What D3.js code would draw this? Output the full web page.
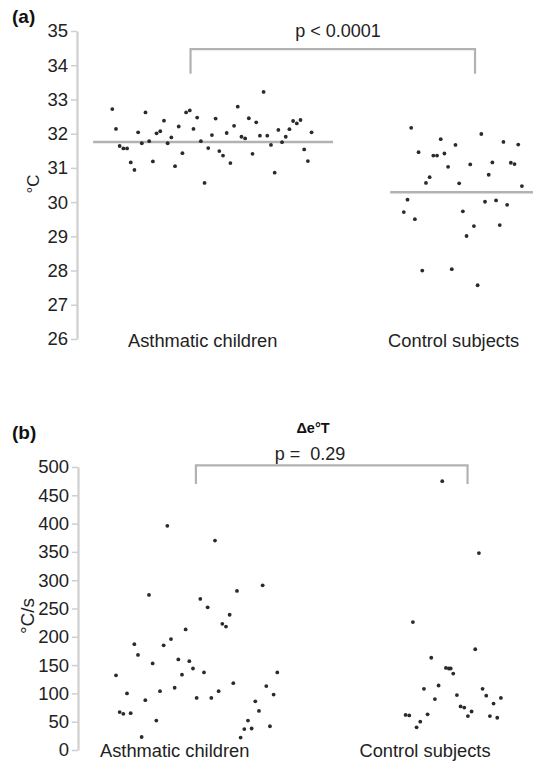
<!DOCTYPE html>
<html>
<head>
<meta charset="utf-8">
<script src="https://cdn.jsdelivr.net/npm/d3@7"></script>
<style>
  html, body { margin: 0; padding: 0; background: #fff; }
  svg { display: block; font-family: "Liberation Sans", Arial, Helvetica, sans-serif; }
</style>
</head>
<body>
<svg id="chart" width="533" height="762"></svg>
<script>
// ---------- DATA ----------
const categories = ["Asthmatic children", "Control subjects"];

// Panel (a): skin temperature, °C (one value per subject, in subject order)
const tempAsthma = [32.72, 32.14, 31.64, 31.57, 31.57, 31.16, 30.94, 32.04, 31.72, 32.62,
  31.78, 31.19, 32.01, 32.07, 32.38, 31.72, 31.89, 31.05, 32.21, 31.43,
  32.62, 32.68, 32.14, 32.47, 31.78, 30.56, 31.58, 31.96, 32.44, 31.49,
  31.36, 32.02, 31.14, 32.23, 32.79, 31.91, 31.86, 32.45, 31.41, 32.33,
  31.94, 33.22, 31.94, 31.67, 30.86, 32.11, 31.75, 31.91, 32.13, 32.37,
  32.30, 32.40, 31.54, 31.20, 32.04];
const tempControl = [29.71, 30.07, 32.17, 29.50, 31.46, 28.00, 30.56, 30.73, 31.36, 31.36,
  31.84, 31.42, 31.03, 28.04, 31.67, 30.55, 29.73, 29.01, 31.10, 29.30,
  27.57, 31.99, 30.01, 30.80, 31.16, 30.05, 29.33, 31.76, 29.92, 31.15,
  31.11, 31.68, 30.47];
const tempMeans = [31.76, 30.29];
const tempTicks = [26, 27, 28, 29, 30, 31, 32, 33, 34, 35];
const tempP = "p < 0.0001";

// Panel (b): Δe°T, °C/s
const rateAsthma = [132, 67, 64, 100, 65, 187, 168, 23, 88, 274,
  153, 52, 104, 185, 396, 196, 110, 160, 133, 213,
  157, 144, 92, 267, 137, 252, 92, 370, 104, 223,
  218, 239, 118, 281, 22, 37, 52, 38, 86, 69,
  291, 113, 42, 98, 137];
const rateControl = [62, 61, 226, 40, 50, 108, 63, 163, 90, 114,
  475, 145, 144, 144, 135, 97, 77, 75, 60, 68,
  178, 348, 108, 96, 60, 82, 57, 92];
const rateControlOrder = [0, 1, 2, 3, 4, 5, 6, 7, 8, 9,
  10, 11, 11.8, 12.3, 13, 14, 15, 16, 17, 18,
  19, 20, 21, 22, 23, 24, 25, 26];
const rateTicks = [0, 50, 100, 150, 200, 250, 300, 350, 400, 450, 500];
const rateP = "p =  0.29";
const rateTitle = "\u0394e\u00B0T";

// ---------- DRAW ----------
const svg = d3.select("#chart");
const CONTROL_OFFSET = 79;   // subject-index gap between groups

function panel(o) {
  const g = svg.append("g");
  const y = d3.scaleLinear().domain(o.yDomain).range(o.yRange);
  const x = d3.scaleLinear().domain([0, 111]).range(o.xRange);

  // axis
  const ax = g.append("g")
    .attr("transform", `translate(${o.axisX},0)`)
    .call(d3.axisLeft(y).tickValues(o.ticks).tickSize(6).tickSizeOuter(0).tickPadding(3));
  ax.select(".domain").attr("stroke", "#cfcfcf").attr("stroke-width", 2.2);
  ax.selectAll(".tick line").attr("stroke", "#cfcfcf").attr("stroke-width", 1.5);
  ax.selectAll(".tick text").attr("fill", "#222").style("font-size", o.tickFont + "px")
    .attr("font-family", "Liberation Sans, Arial, sans-serif");

  // y label
  g.append("text")
    .attr("transform", `translate(${o.yLabelPos[0]},${o.yLabelPos[1]}) rotate(-90)`)
    .attr("text-anchor", "middle").attr("dy", "0.35em")
    .attr("fill", "#222").style("font-size", o.yLabelFont + "px")
    .text(o.yLabel);

  // mean lines
  if (o.means) {
    o.means.forEach((m, i) => {
      g.append("line")
        .attr("x1", x(o.meanExtent[i][0])).attr("x2", x(o.meanExtent[i][1]))
        .attr("y1", y(m)).attr("y2", y(m))
        .attr("stroke", "#b2b2b2").attr("stroke-width", 2.5);
    });
  }

  // bracket
  const bL = x(o.bracket[0]), bR = x(o.bracket[1]);
  const bT = y(o.bracketY[0]), bB = y(o.bracketY[1]);
  g.append("path")
    .attr("d", `M${bL},${bB}V${bT}H${bR}V${bB}`)
    .attr("fill", "none").attr("stroke", "#b2b2b2").attr("stroke-width", 2.2);
  g.append("text")
    .attr("x", o.pPos[0]).attr("y", o.pPos[1])
    .attr("text-anchor", "middle").attr("fill", "#222")
    .style("font-size", "18px").style("white-space", "pre")
    .attr("xml:space", "preserve").text(o.pText);

  // points
  const pts = [];
  o.groupA.forEach((v, i) => pts.push([i, v]));
  o.groupB.forEach((v, i) => pts.push([CONTROL_OFFSET + (o.orderB ? o.orderB[i] : i), v]));
  g.append("g").selectAll("circle").data(pts).join("circle")
    .attr("cx", d => x(d[0])).attr("cy", d => y(d[1]))
    .attr("r", 1.9).attr("fill", "#2a2a2a");

  // category labels
  categories.forEach((c, i) => {
    g.append("text")
      .attr("x", x(o.catPos[i])).attr("y", o.catY)
      .attr("text-anchor", "middle").attr("fill", "#222")
      .style("font-size", "18.3px").text(c);
  });

  // panel letter
  g.append("text")
    .attr("x", 12).attr("y", o.letterY)
    .attr("fill", "#111").style("font-size", "19px").style("font-weight", "bold")
    .text(o.letter);
}

panel({
  yDomain: [26, 35], yRange: [339, 31], xRange: [112.3, 521.9], axisX: 77,
  ticks: tempTicks, tickFont: 18.5,
  yLabel: "\u00B0C", yLabelPos: [33, 184], yLabelFont: 17,
  means: tempMeans, meanExtent: [[-5.2, 59.8], [75.3, 114.5]],
  bracket: [21.2, 98.3], bracketY: [34.47, 33.75],
  pText: tempP, pPos: [338, 37],
  groupA: tempAsthma, groupB: tempControl,
  catPos: [24.5, 92.5], catY: 347,
  letter: "(a)", letterY: 23
});

panel({
  yDomain: [0, 500], yRange: [750, 467], xRange: [116, 522.9], axisX: 78,
  ticks: rateTicks, tickFont: 18.5,
  yLabel: "\u00B0C/s", yLabelPos: [27, 616], yLabelFont: 19,
  means: null,
  bracket: [21.8, 95.9], bracketY: [503, 470],
  pText: rateP, pPos: [310, 460],
  groupA: rateAsthma, groupB: rateControl, orderB: rateControlOrder,
  catPos: [16, 84.3], catY: 757,
  letter: "(b)", letterY: 439
});

// title of panel (b)
svg.append("text")
  .attr("x", 313).attr("y", 433)
  .attr("text-anchor", "middle").attr("fill", "#111")
  .style("font-size", "14.5px").style("font-weight", "bold")
  .text(rateTitle);
</script>
</body>
</html>
